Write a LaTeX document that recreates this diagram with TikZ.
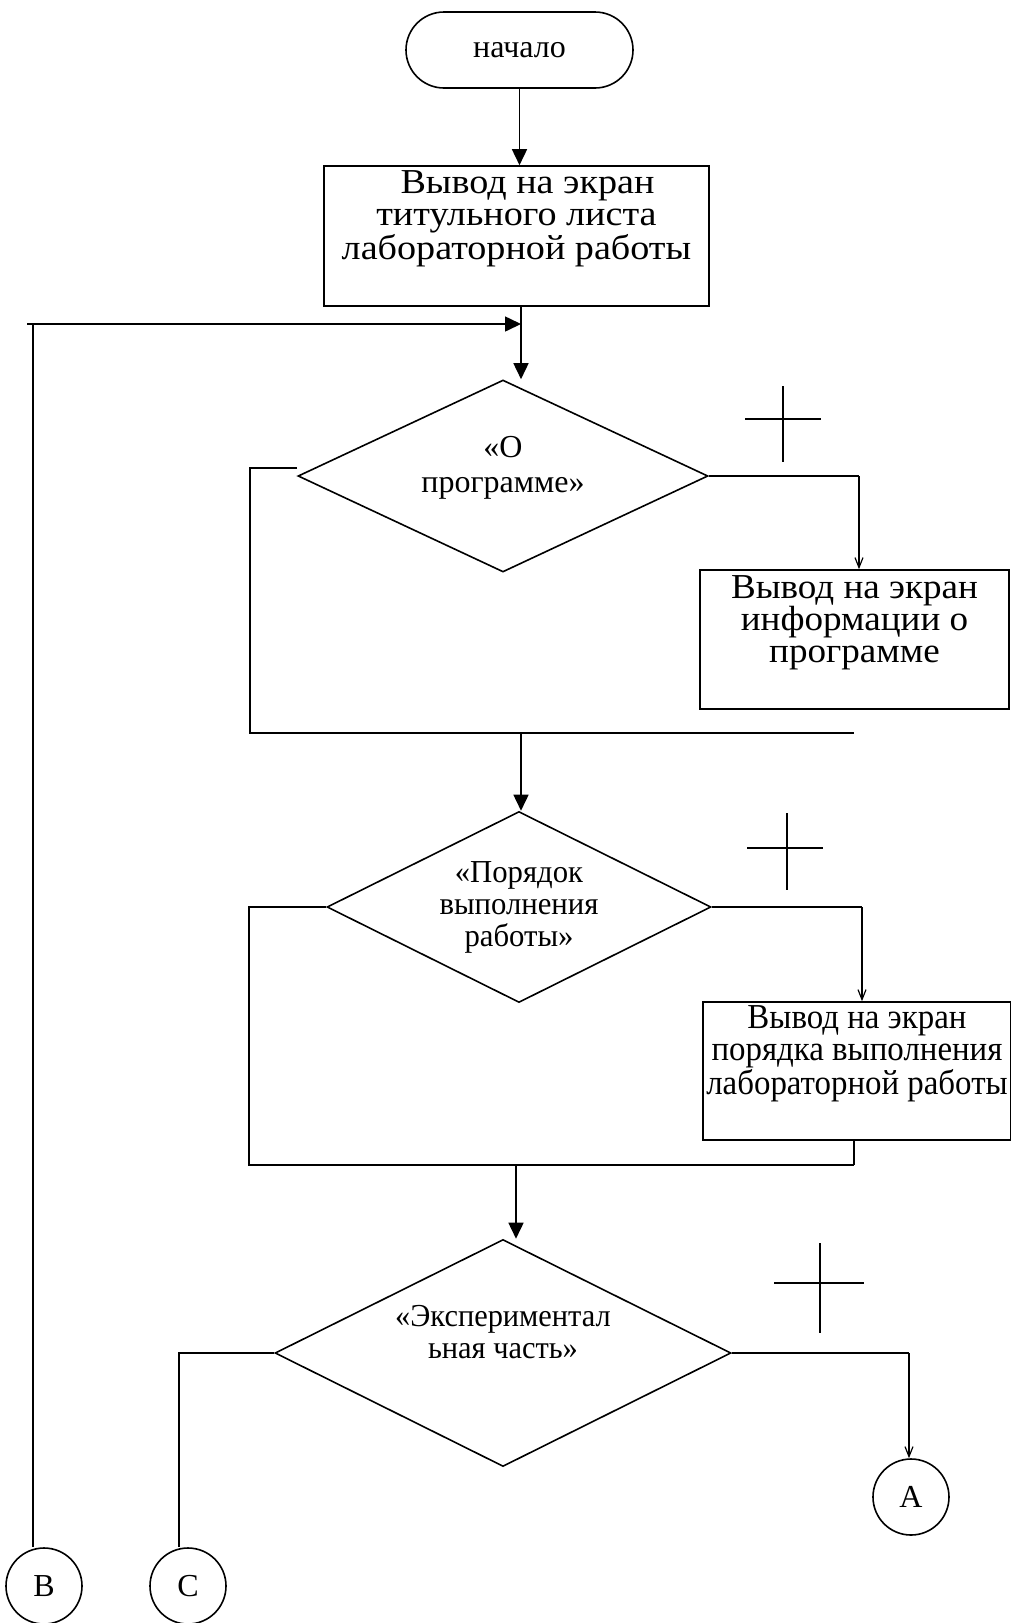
\documentclass[tikz,border=0pt]{standalone}
\usepackage{fontspec}
\setmainfont{Liberation Serif}
\newfontfamily\boxAfont[FakeStretch=1.09]{Liberation Serif}
\newfontfamily\boxBfont[FakeStretch=1.06]{Liberation Serif}
\newfontfamily\boxCfont[FakeStretch=0.94]{Liberation Serif}
\newfontfamily\decBfont[FakeStretch=0.96]{Liberation Serif}
\newfontfamily\decCfont[FakeStretch=0.95]{Liberation Serif}
\usetikzlibrary{arrows.meta,shapes.geometric}
\begin{document}
\begin{tikzpicture}[x=1pt,y=-1pt,
  every node/.style={font=\fontsize{32}{32}\selectfont},
  ln/.style={line width=1.6pt},
  thin/.style={line width=1.2pt},
  bigarrow/.style={ln,-{Triangle[length=16pt,width=15pt]}},
  smallarrow/.style={thin,-{Straight Barb[length=10pt,width=8pt]}},
  procbox/.style={draw,line width=1.6pt,rectangle,align=center,inner sep=0pt},
  decision/.style={draw,line width=1.6pt,diamond,aspect=2.1,align=center,inner sep=0pt},
  conn/.style={draw,line width=1.6pt,circle,minimum size=76pt,inner sep=0pt},
  term/.style={draw,line width=1.6pt,rectangle,rounded corners=38pt,inner sep=0pt}
]
\useasboundingbox (0,0) rectangle (1011,1623);

% nodes
\node[term,minimum width=227pt,minimum height=76pt] (start) at (519.5,50) {начало};
\node[procbox,minimum width=385pt,minimum height=140pt,
  font=\boxAfont\fontsize{35}{32}\selectfont] (box1) at (516.5,236)
  {\hspace*{22pt}Вывод на экран\\титульного листа\\лабораторной работы\\\strut};
\node[decision,minimum width=410pt,minimum height=192pt,
  font=\fontsize{32}{35}\selectfont] (d1) at (503,476)
  {«О\\программе»\\[-23pt]\strut};
\node[procbox,minimum width=309pt,minimum height=139pt,
  font=\boxBfont\fontsize{35}{32}\selectfont] (box2) at (854.5,639.5)
  {Вывод на экран\\информации о\\программе\\\strut};
\node[decision,minimum width=384pt,minimum height=191pt,
  font=\decBfont\fontsize{32}{32}\selectfont] (d2) at (519,907)
  {«Порядок\\выполнения\\работы»};
\node[procbox,minimum width=308pt,minimum height=138pt,
  font=\boxCfont\fontsize{35}{32}\selectfont] (box3) at (857,1071)
  {Вывод на экран\\порядка выполнения\\лабораторной работы\\\strut};
\node[decision,minimum width=456pt,minimum height=227pt,
  font=\decCfont\fontsize{32}{32}\selectfont] (d3) at (503,1353)
  {«Экспериментал\\ьная часть»\\\strut};
\node[conn] (A) at (911,1497) {A};
\node[conn] (B) at (44,1586) {B};
\node[conn] (C) at (188,1586) {C};

% junction coordinates
\coordinate (j1) at (521,324);
\coordinate (loopL) at (33,324);
\coordinate (loopE) at (27,324);
\coordinate (m1) at (521,733);
\coordinate (m2) at (516,1165);
\coordinate (l1) at (250,468);
\coordinate (r1) at (859,476);
\coordinate (l2) at (249,907);
\coordinate (r2) at (862,907);
\coordinate (b3) at (854,1165);
\coordinate (l3) at (179,1353);
\coordinate (r3) at (909,1353);

% connectors
\draw[bigarrow] (start.south) -- (start.south |- box1.north);
\draw[bigarrow] (box1.south -| j1) -- (j1 |- d1.north);
\draw[bigarrow] (loopL |- B.north) -- (loopL) -- (j1);
\draw[ln] (loopE) -- (loopL);
\draw[ln] ([yshift=8pt]d1.west) -- (l1) -- (l1 |- m1) -- (854,733);
\draw[thin] (d1.east) -- (r1);
\draw[smallarrow] (r1) -- (r1 |- box2.north);
\draw[bigarrow] (m1) -- (m1 |- d2.north);
\draw[ln] (d2.west) -- (l2) -- (l2 |- m2) -- (b3);
\draw[thin] (d2.east) -- (r2);
\draw[smallarrow] (r2) -- (r2 |- box3.north);
\draw[ln] (box3.south -| b3) -- (b3);
\draw[bigarrow] (m2) -- (m2 |- d3.north);
\draw[ln] (d3.west) -- (l3) -- (l3 |- C.north);
\draw[thin] (d3.east) -- (r3);
\draw[smallarrow] (r3) -- (r3 |- A.north);

% plus marks
\draw[thin] (745,419) -- (821,419) (783,386) -- (783,462);
\draw[thin] (747,848) -- (823,848) (787,813) -- (787,890);
\draw[thin] (774,1283) -- (864,1283) (820,1243) -- (820,1333);
\end{tikzpicture}
\end{document}
